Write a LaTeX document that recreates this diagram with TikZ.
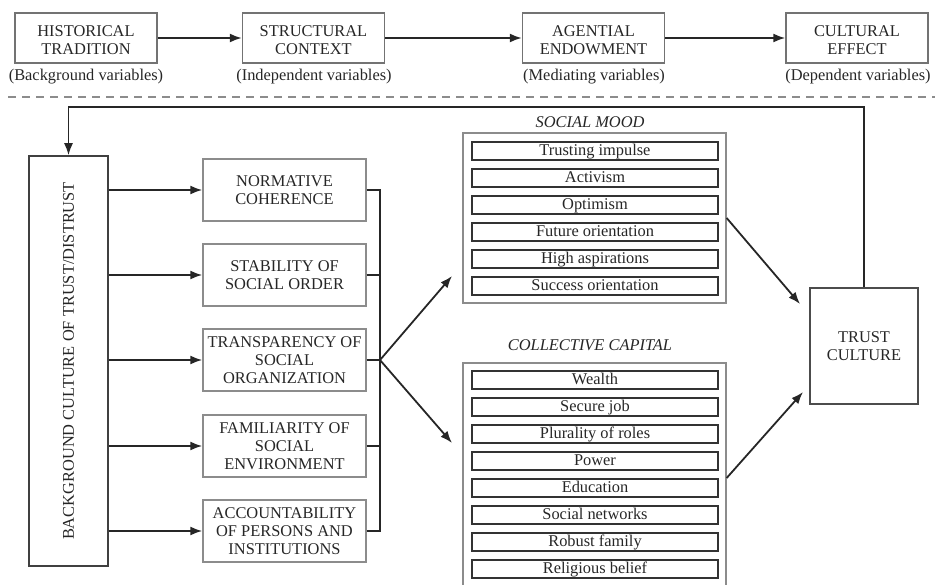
\documentclass[tikz,border=0pt]{standalone}
\usepackage{fontspec}
\setmainfont{Liberation Serif}
\usetikzlibrary{arrows.meta}
\begin{document}
\begin{tikzpicture}[x=1pt,y=-1pt,
  every node/.style={font=\fontsize{16.4}{18}\selectfont, text=black!85, inner sep=0pt, align=center},
  stage/.style={draw=black!55, line width=1.4pt, minimum width=142pt, minimum height=50pt},
  factor/.style={draw=black!45, line width=1.4pt, minimum width=163pt, minimum height=62pt},
  bgbox/.style={draw=black!75, line width=1.5pt, minimum width=79pt, minimum height=410pt},
  group/.style={draw=black!45, line width=1.3pt, minimum width=263pt},
  item/.style={draw=black!80, line width=1.6pt, minimum width=246pt, minimum height=18pt, text height=12pt, text depth=2.5pt},
  result/.style={draw=black!70, line width=1.5pt, minimum width=108pt, minimum height=116pt},
  heading/.style={font=\fontsize{16.4}{18}\selectfont\itshape},
  arr/.style={draw=black!85, line width=1.8pt, -{Latex[length=12pt,width=9pt]}},
  link/.style={draw=black!85, line width=1.8pt},
]
\useasboundingbox (0,0) rectangle (941,585);

% ---- causal chain ----
\node[stage] (hist) at (86,38) {};
\node[stage] (struc) at (313.5,38) {};
\node[stage] (agent) at (593.5,38) {};
\node[stage] (cult) at (857,38) {};
\node (histt) at (86,40.5) {HISTORICAL\\TRADITION};
\node (struct) at (313.5,40.5) {STRUCTURAL\\CONTEXT};
\node (agentt) at (593.5,40.5) {AGENTIAL\\ENDOWMENT};
\node (cultt) at (857,40.5) {CULTURAL\\EFFECT};
\node (l1) at (86,77) {(Background variables)};
\node (l2) at (314,77) {(Independent variables)};
\node (l3) at (594,77) {(Mediating variables)};
\node (l4) at (858,77) {(Dependent variables)};
\draw[arr] (hist) -- (struc);
\draw[arr] (struc) -- (agent);
\draw[arr] (agent) -- (cult);

\draw[black!45, line width=1.2pt, dash pattern=on 8pt off 6pt] (8,97) -- (935,97);

% ---- background culture ----
\node[bgbox] (bg) at (68.5,361) {};
\node[rotate=90] (bgtext) at (bg.center) {BACKGROUND CULTURE OF TRUST/DISTRUST};

% ---- structural factors ----
\node[factor] (nc) at (284.5,190) {NORMATIVE\\COHERENCE};
\node[factor] (so) at (284.5,275) {STABILITY OF\\SOCIAL ORDER};
\node[factor] (tr) at (284.5,360) {TRANSPARENCY OF\\SOCIAL\\ORGANIZATION};
\node[factor] (fa) at (284.5,446) {FAMILIARITY OF\\SOCIAL\\ENVIRONMENT};
\node[factor] (ac) at (284.5,531) {ACCOUNTABILITY\\OF PERSONS AND\\INSTITUTIONS};
\foreach \f in {nc,so,tr,fa,ac}
  \draw[arr] (bg.east |- \f.west) -- (\f.west);

\coordinate (j) at (380,360);
\foreach \f in {nc,so,tr,fa,ac}
  \draw[link] (\f.east) -| (j);

% ---- social mood ----
\node[heading] (smh) at (590,122) {SOCIAL MOOD};
\node[group, minimum height=170pt] (sm) at (594.5,218) {};
\foreach \t [count=\i] in {Trusting impulse,Activism,Optimism,Future orientation,High aspirations,Success orientation}
  \node[item] (sm\i) at (595,124+27*\i) {\t};

% ---- collective capital ----
\node[heading] (cch) at (590,345) {COLLECTIVE CAPITAL};
\node[group, minimum height=230pt] (cc) at (594.5,478) {};
\foreach \t [count=\i] in {Wealth,Secure job,Plurality of roles,Power,Education,Social networks,Robust family,Religious belief}
  \node[item] (cc\i) at (595,353+27*\i) {\t};

\coordinate (smin) at (452,276);
\coordinate (ccin) at (452,443);
\draw[arr] (j) -- (smin);
\draw[arr] (j) -- (ccin);

% ---- trust culture ----
\node[result] (tc) at (864,346) {TRUST\\CULTURE};
\coordinate (tin1) at (800,304);
\coordinate (tin2) at (803,392);
\draw[arr] (sm.east) -- (tin1);
\draw[arr] (cc.east) -- (tin2);

% ---- feedback loop ----
\coordinate (loop) at (0,107);
\draw[arr] (tc.north) -- (tc.north |- loop) -- (bg.north |- loop) -- (bg.north);
\end{tikzpicture}
\end{document}
